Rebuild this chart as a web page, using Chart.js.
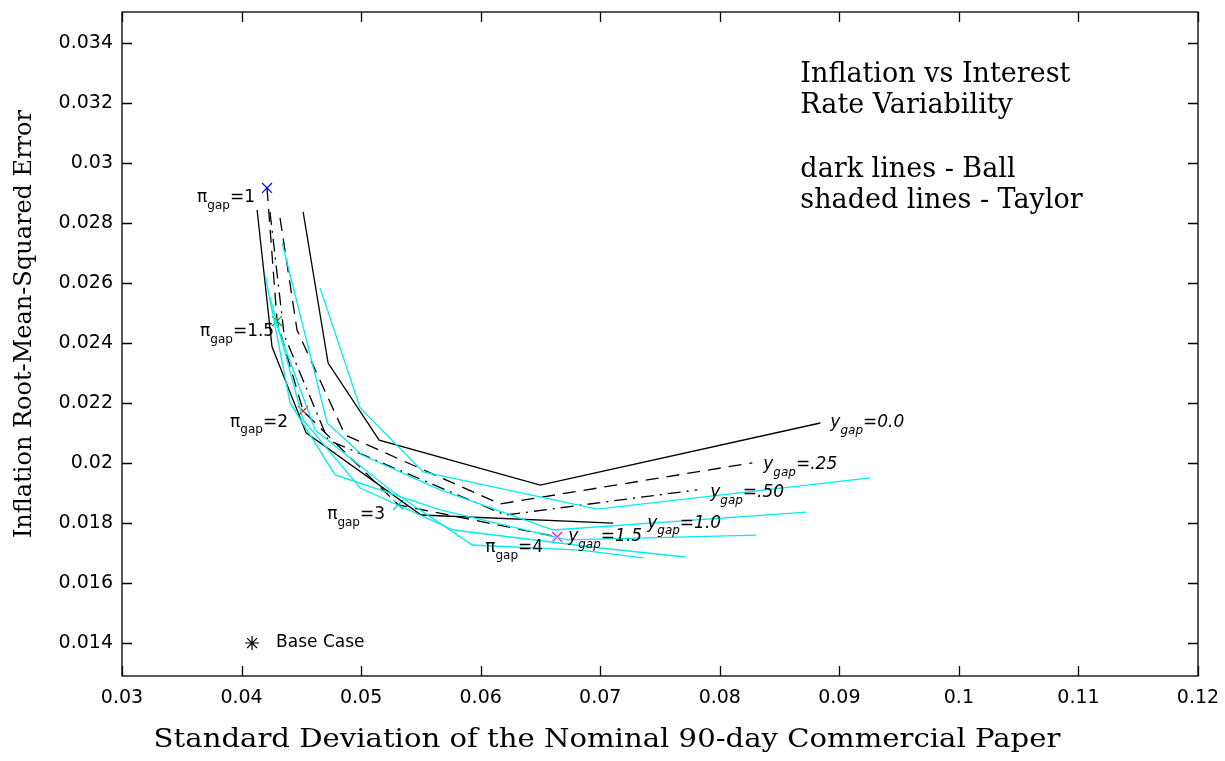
<!DOCTYPE html>
<html lang="en">
<head>
<meta charset="UTF-8">
<title>Inflation vs Interest Rate Variability</title>
<script src="https://cdn.jsdelivr.net/npm/chart.js"></script>
<style>
  html, body { margin: 0; padding: 0; background: #fff; }
</style>
</head>
<body>
<canvas id="grafico" width="1225" height="761"></canvas>
<script>
// Ball rule frontiers (dark lines), one per y_gap weight
const ball00X = [0.04515, 0.04724, 0.05151, 0.06498, 0.08841];
const ball00Y = [0.02838, 0.02334, 0.02077, 0.01927, 0.02134];
const ball25X = [0.04322, 0.04464, 0.04866, 0.06163, 0.08272];
const ball25Y = [0.02818, 0.02444, 0.02094, 0.01864, 0.02001];
const ball50X = [0.04238, 0.04356, 0.04724, 0.06205, 0.07812];
const ball50Y = [0.02838, 0.02428, 0.02077, 0.01827, 0.01911];
const ball100X = [0.04130, 0.04255, 0.04540, 0.05502, 0.07109];
const ball100Y = [0.02845, 0.02388, 0.02101, 0.01827, 0.01800];
const ball150X = [0.04213, 0.04297, 0.04515, 0.05310, 0.06640];
const ball150Y = [0.02918, 0.02474, 0.02174, 0.01861, 0.01754];

// Taylor rule frontiers (shaded lines)
const taylor1X = [0.04657, 0.04992, 0.05519, 0.06975, 0.09259];
const taylor1Y = [0.02584, 0.02184, 0.01971, 0.01847, 0.01951];
const taylor2X = [0.04339, 0.04716, 0.05008, 0.05661, 0.06607, 0.08724];
const taylor2Y = [0.02735, 0.02134, 0.02027, 0.01911, 0.01777, 0.01837];
const taylor3X = [0.04197, 0.04406, 0.04782, 0.05661, 0.06724, 0.08305];
const taylor3Y = [0.02628, 0.02201, 0.01961, 0.01844, 0.01744, 0.01760];
const taylor4X = [0.04238, 0.04515, 0.04992, 0.05770, 0.07000, 0.07711];
const taylor4Y = [0.02554, 0.02144, 0.01917, 0.01777, 0.01717, 0.01687];
const taylor5X = [0.04280, 0.04615, 0.05243, 0.05929, 0.06833, 0.07360];
const taylor5Y = [0.02478, 0.02111, 0.01911, 0.01727, 0.01710, 0.01684];

// pi_gap markers on the y_gap=1.5 line
const marcaX = [0.04213, 0.04297, 0.04515, 0.05310, 0.06640];
const marcaY = [0.02918, 0.02474, 0.02174, 0.01861, 0.01754];
const marcaColor = ['#0000ff', '#00a000', '#ff0000', '#00c8c8', '#ff00ff'];

const baseX = [0.04088];
const baseY = [0.01400];

// labels
const piTexto = ['1', '1.5', '2', '3', '4'];
const piX = [0.03628, 0.03653, 0.03904, 0.04716, 0.06038];
const piY = [0.02885, 0.02438, 0.02137, 0.01827, 0.01717];
const ygTexto = ['0.0', '.25', '.50', '1.0', '1.5'];
const ygX = [0.08925, 0.08364, 0.07920, 0.07393, 0.06732];
const ygY = [0.02134, 0.01994, 0.01901, 0.01800, 0.01754];
const tituloLineas = ['Inflation vs Interest', 'Rate Variability', '', 'dark lines - Ball', 'shaded lines - Taylor'];

const xTicks = [0.03, 0.04, 0.05, 0.06, 0.07, 0.08, 0.09, 0.10, 0.11, 0.12];
const xTickLabels = ['0.03', '0.04', '0.05', '0.06', '0.07', '0.08', '0.09', '0.1', '0.11', '0.12'];
const yTicks = [0.014, 0.016, 0.018, 0.020, 0.022, 0.024, 0.026, 0.028, 0.030, 0.032, 0.034];
const yTickLabels = ['0.014', '0.016', '0.018', '0.02', '0.022', '0.024', '0.026', '0.028', '0.03', '0.032', '0.034'];

function puntos(xs, ys) {
    return xs.map((x, i) => ({ x: x, y: ys[i] }));
}

function linea(xs, ys, color, dash) {
    return {
        data: puntos(xs, ys),
        showLine: true,
        borderColor: color,
        borderWidth: 1.3,
        borderDash: dash || [],
        pointRadius: 0,
        fill: false,
        tension: 0
    };
}

const cian = '#00eeee';
const datasets = [
    linea(taylor1X, taylor1Y, cian),
    linea(taylor2X, taylor2Y, cian),
    linea(taylor3X, taylor3Y, cian),
    linea(taylor4X, taylor4Y, cian),
    linea(taylor5X, taylor5Y, cian),
    linea(ball00X, ball00Y, '#000'),
    linea(ball25X, ball25Y, '#000', [13, 8]),
    linea(ball50X, ball50Y, '#000', [13, 6, 2, 6]),
    linea(ball100X, ball100Y, '#000'),
    linea(ball150X, ball150Y, '#000', [13, 8]),
    {
        data: puntos(marcaX, marcaY),
        showLine: false,
        pointStyle: 'crossRot',
        pointRadius: 7,
        pointBorderWidth: 1.2,
        pointBorderColor: marcaColor,
        pointBackgroundColor: marcaColor
    },
    {
        data: puntos(baseX, baseY),
        showLine: false,
        pointStyle: 'star',
        pointRadius: 7,
        pointBorderWidth: 1.2,
        pointBorderColor: '#000'
    }
];

const marcoPlugin = {
    id: 'marco',
    afterDraw(chart) {
        const { ctx, chartArea: a, scales: { x, y } } = chart;
        ctx.save();
        ctx.strokeStyle = '#000';
        ctx.lineWidth = 1.3;
        ctx.strokeRect(a.left, a.top, a.right - a.left, a.bottom - a.top);
        ctx.beginPath();
        x.ticks.forEach(t => {
            const px = Math.round(x.getPixelForValue(t.value)) + 0.5;
            ctx.moveTo(px, a.bottom); ctx.lineTo(px, a.bottom - 10);
            ctx.moveTo(px, a.top); ctx.lineTo(px, a.top + 10);
        });
        y.ticks.forEach(t => {
            const py = Math.round(y.getPixelForValue(t.value)) + 0.5;
            ctx.moveTo(a.left, py); ctx.lineTo(a.left + 10, py);
            ctx.moveTo(a.right, py); ctx.lineTo(a.right - 10, py);
        });
        ctx.stroke();
        ctx.restore();
    }
};

function conSubindice(ctx, px, py, antes, sub, despues, estilo) {
    ctx.textBaseline = 'middle';
    ctx.textAlign = 'left';
    ctx.font = estilo + '17px "DejaVu Sans"';
    ctx.fillText(antes, px, py);
    px += ctx.measureText(antes).width;
    ctx.font = estilo + '12px "DejaVu Sans"';
    ctx.fillText(sub, px, py + 8);
    px += ctx.measureText(sub).width;
    ctx.font = estilo + '17px "DejaVu Sans"';
    ctx.fillText(despues, px, py);
}

const textoPlugin = {
    id: 'texto',
    afterDraw(chart) {
        const { ctx, chartArea: a, scales: { x, y } } = chart;
        ctx.save();
        ctx.fillStyle = '#000';
        piTexto.forEach((t, i) => {
            conSubindice(ctx, x.getPixelForValue(piX[i]), y.getPixelForValue(piY[i]), '\u03c0', 'gap', '=' + t, '');
        });
        ygTexto.forEach((t, i) => {
            conSubindice(ctx, x.getPixelForValue(ygX[i]), y.getPixelForValue(ygY[i]), 'y', 'gap', '=' + t, 'italic ');
        });
        ctx.font = '17px "DejaVu Sans"';
        ctx.textBaseline = 'middle';
        ctx.fillText('Base Case', x.getPixelForValue(0.04289), y.getPixelForValue(baseY[0]));

        // title block
        ctx.font = '27px "DejaVu Serif"';
        ctx.textBaseline = 'alphabetic';
        const tx = x.getPixelForValue(0.08674);
        const ty = y.getPixelForValue(0.03272);
        tituloLineas.forEach((l, i) => ctx.fillText(l, tx, ty + i * 31.6));

        // axis titles
        ctx.save();
        ctx.font = '26px "DejaVu Serif"';
        ctx.textAlign = 'center';
        ctx.textBaseline = 'middle';
        ctx.translate(607, 740);
        ctx.scale(1.12, 1);
        ctx.fillText('Standard Deviation of the Nominal 90-day Commercial Paper', 0, 0);
        ctx.restore();

        ctx.translate(31, 110);
        ctx.rotate(-Math.PI / 2);
        ctx.font = '24px "DejaVu Serif"';
        ctx.textAlign = 'right';
        ctx.textBaseline = 'alphabetic';
        ctx.fillText('Inflation Root-Mean-Squared Error', 0, 0);
        ctx.restore();
    }
};

const fuente = { family: 'DejaVu Sans', size: 19 };

const ctx = document.getElementById('grafico').getContext('2d');
new Chart(ctx, {
    type: 'scatter',
    data: { datasets: datasets },
    options: {
        responsive: false,
        animation: false,
        devicePixelRatio: 1,
        layout: { padding: { top: 12, right: 27, left: 0, bottom: 0 } },
        plugins: { legend: { display: false }, tooltip: { enabled: false } },
        scales: {
            x: {
                type: 'linear',
                min: 0.03,
                max: 0.12,
                afterBuildTicks: s => { s.ticks = xTicks.map(v => ({ value: v })); },
                afterFit: s => { s.height = 85; s.paddingLeft = 0; s.paddingRight = 0; },
                ticks: {
                    callback: (v, i) => xTickLabels[i],
                    font: fuente,
                    color: '#000',
                    padding: 11,
                    maxRotation: 0,
                    autoSkip: false
                },
                grid: { display: false, drawTicks: false },
                border: { display: false }
            },
            y: {
                type: 'linear',
                min: 0.0129,
                max: 0.03505,
                afterBuildTicks: s => { s.ticks = yTicks.map(v => ({ value: v })); },
                afterFit: s => { s.width = 122; s.paddingTop = 0; s.paddingBottom = 0; },
                ticks: {
                    callback: (v, i) => yTickLabels[i],
                    font: fuente,
                    color: '#000',
                    padding: 9,
                    autoSkip: false
                },
                grid: { display: false, drawTicks: false },
                border: { display: false }
            }
        }
    },
    plugins: [marcoPlugin, textoPlugin]
});
</script>
</body>
</html>
